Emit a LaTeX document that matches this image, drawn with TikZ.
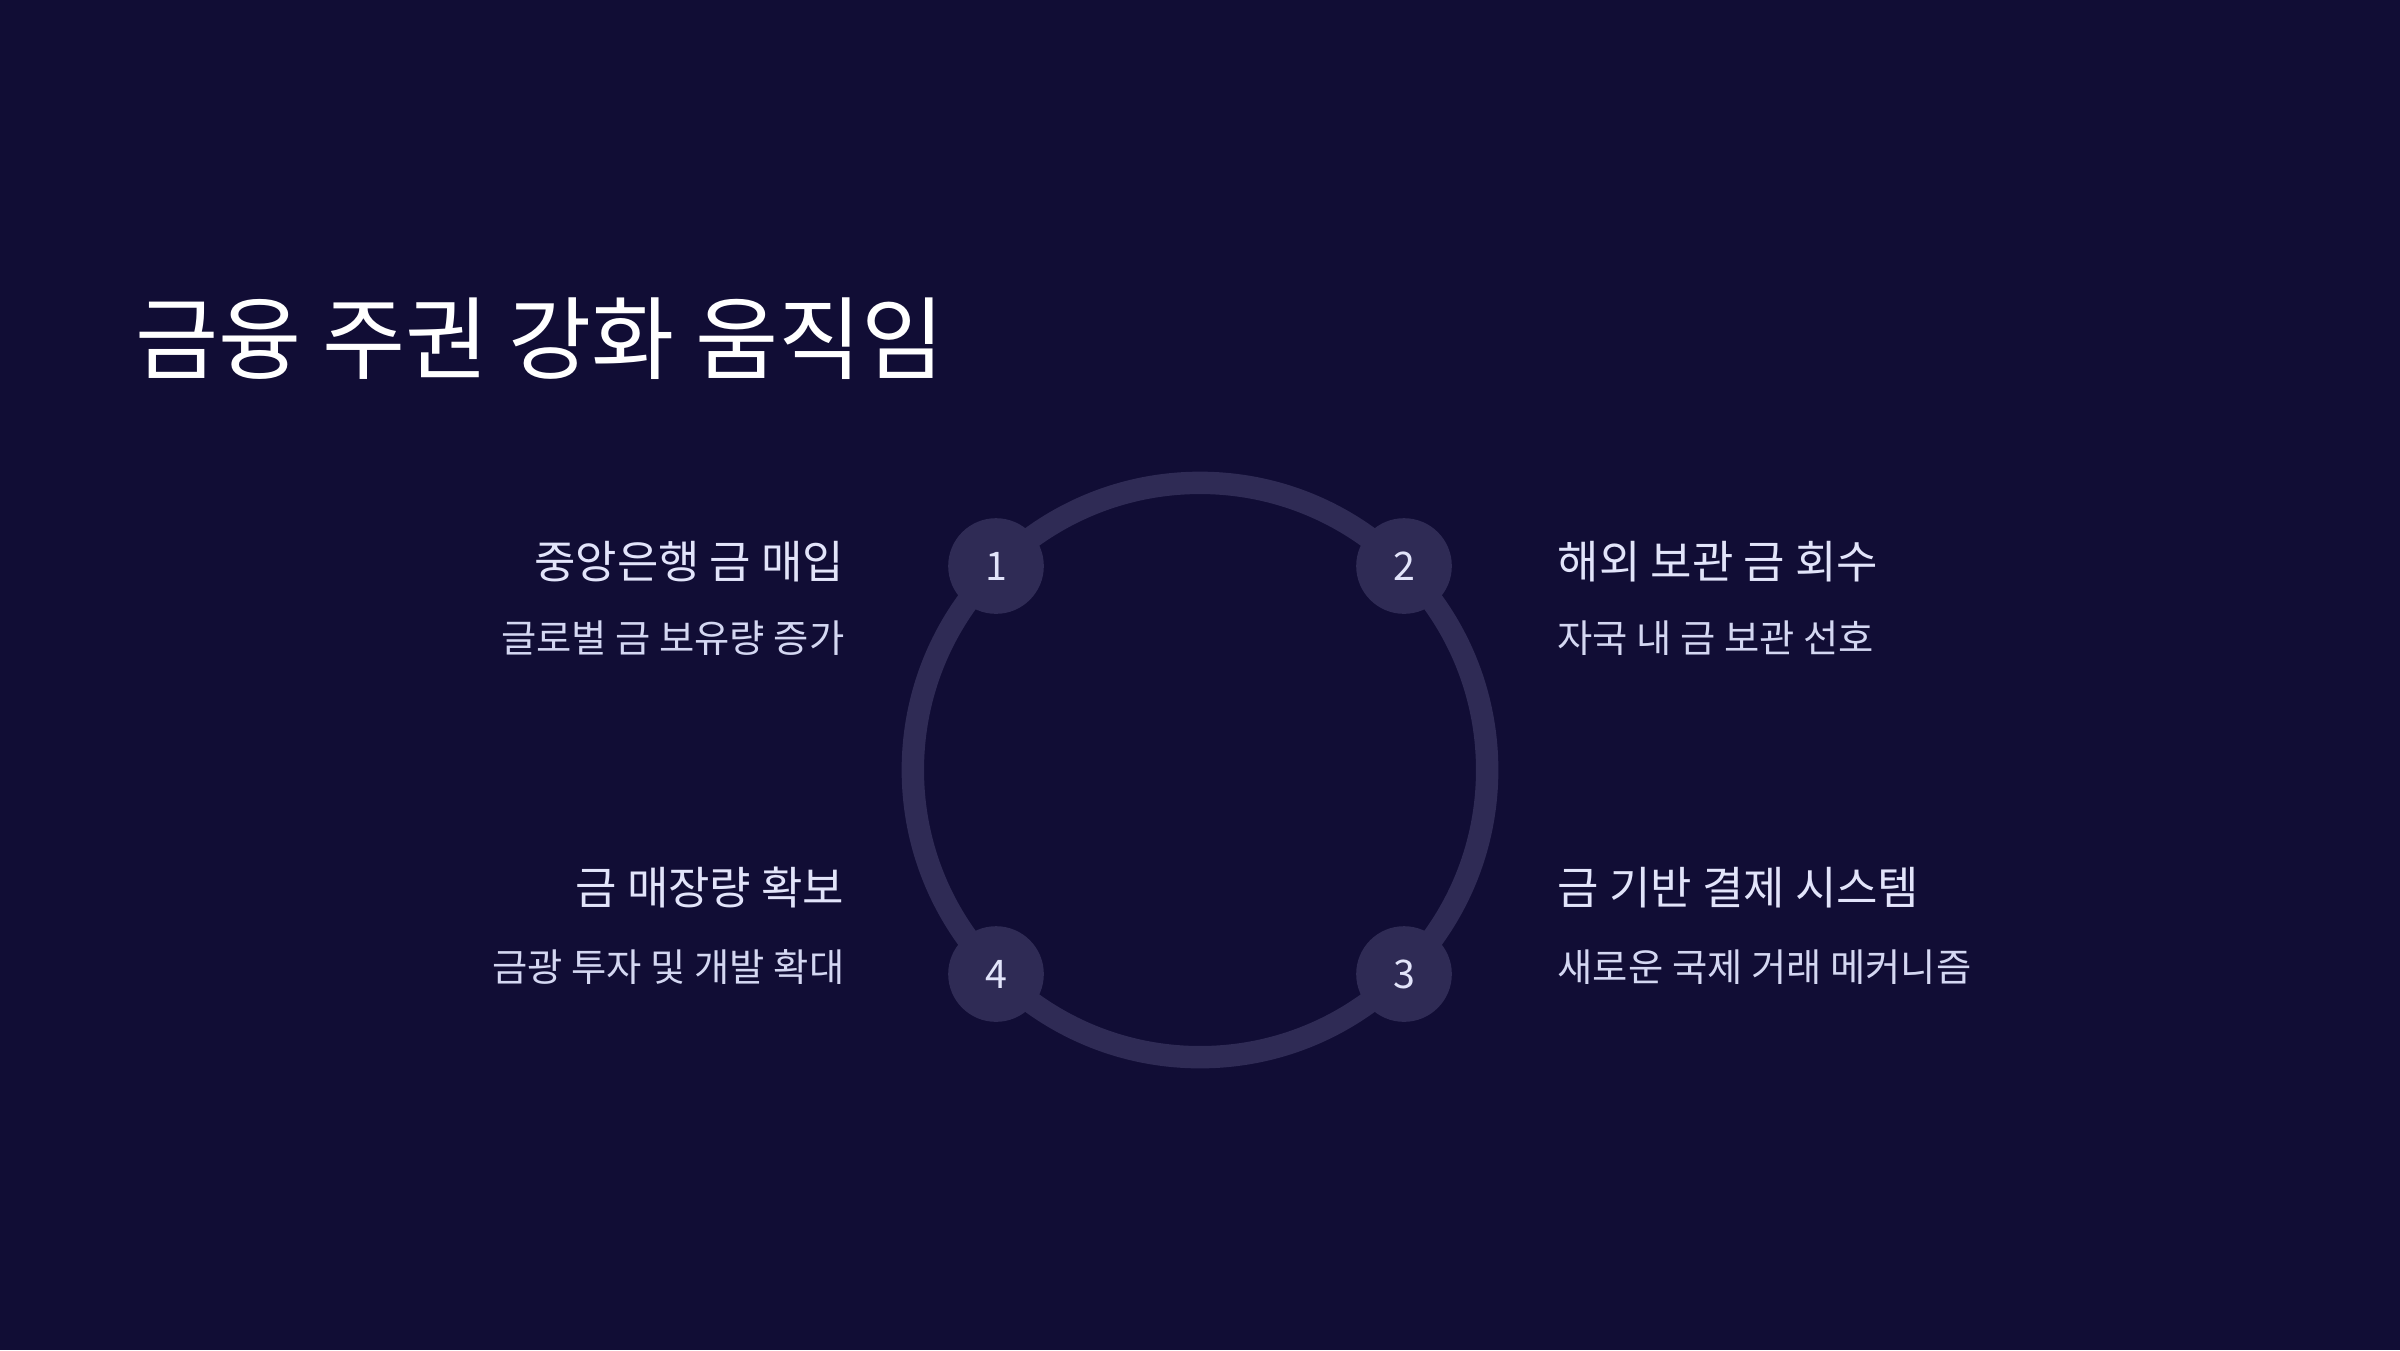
\documentclass[tikz,border=0pt]{standalone}
\usepackage{fontspec}
\setmainfont{Noto Sans CJK KR}
\definecolor{bg}{HTML}{110D35}
\definecolor{ringc}{HTML}{2F2B55}
\definecolor{headc}{HTML}{E2E4FA}
\definecolor{subc}{HTML}{D4D7F2}
\tikzset{
  ringline/.style={draw=ringc, line width=6.37pt},
  badge/.style={circle, fill=ringc, minimum size=0.956cm, inner sep=0pt, text=headc, font=\fontsize{11.2pt}{12pt}\selectfont},
  headl/.style={text=headc, font=\fontsize{12.8pt}{14pt}\selectfont, inner sep=0pt},
  subl/.style={text=subc, font=\fontsize{10.9pt}{12pt}\selectfont, inner sep=0pt},
}
\begin{document}
\begin{tikzpicture}[x=0.01cm,y=-0.01cm]
\useasboundingbox (0,0) rectangle (2400,1350);
\fill[bg] (0,0) rectangle (2400,1350);
\coordinate (c) at (1200,770);
\draw[ringline] (c) ++(0:2.87cm) arc[start angle=0, end angle=90, radius=2.87cm];
\draw[ringline] (c) ++(90:2.87cm) arc[start angle=90, end angle=180, radius=2.87cm];
\draw[ringline] (c) ++(180:2.87cm) arc[start angle=180, end angle=270, radius=2.87cm];
\draw[ringline] (c) ++(270:2.87cm) arc[start angle=270, end angle=360, radius=2.87cm];
\node[badge] (b1) at (996,566) {\raisebox{-0.03cm}{1}};
\node[badge] (b2) at (1404,566) {\raisebox{-0.03cm}{2}};
\node[badge] (b3) at (1404,974) {\raisebox{-0.03cm}{3}};
\node[badge] (b4) at (996,974) {\raisebox{-0.03cm}{4}};
\node[anchor=base west, text=white, font=\fontsize{25.7pt}{30pt}\selectfont, inner sep=0pt] (title) at (135,372) {금융 주권 강화 움직임};
\node[headl, anchor=base east] (h1) at (845,578) {중앙은행 금 매입};
\node[subl, anchor=base east] (s1) at (845,652) {글로벌 금 보유량 증가};
\node[headl, anchor=base west] (h2) at (1557,578) {해외 보관 금 회수};
\node[subl, anchor=base west] (s2) at (1557,652) {자국 내 금 보관 선호};
\node[headl, anchor=base west] (h3) at (1557,904) {금 기반 결제 시스템};
\node[subl, anchor=base west] (s3) at (1557,981) {새로운 국제 거래 메커니즘};
\node[headl, anchor=base east] (h4) at (845,904) {금 매장량 확보};
\node[subl, anchor=base east] (s4) at (845,981) {금광 투자 및 개발 확대};
\end{tikzpicture}
\end{document}
